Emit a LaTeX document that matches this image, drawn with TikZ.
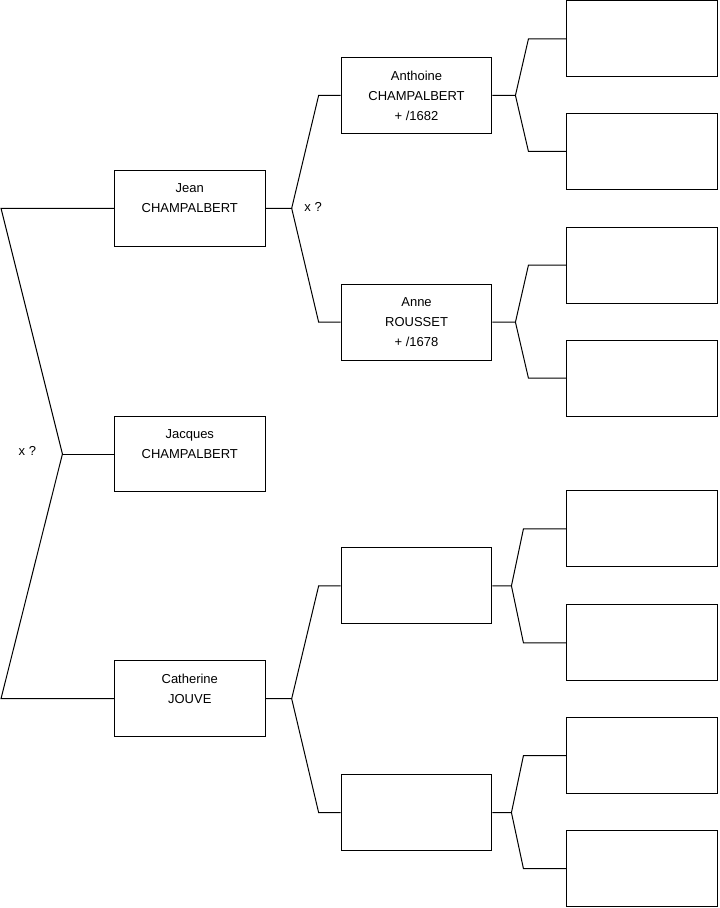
\documentclass[tikz,border=0pt]{standalone}
\usepackage{fontspec}
\setmainfont{Liberation Sans}
\usetikzlibrary{positioning}

\tikzset{
  person/.style={draw, line width=0.75pt, minimum width=113.25pt, minimum height=57pt,
    inner sep=0pt, align=center, font=\fontsize{9.75}{15}\selectfont},
  link/.style={line width=0.75pt},
  note/.style={inner sep=0pt, anchor=west, font=\fontsize{9.75}{11}\selectfont}
}

\begin{document}
\begin{tikzpicture}[x=0.75pt, y=-0.75pt]
    \useasboundingbox (-0.5,-0.5) rectangle (719.5,908.5);
    % generation 1
    \node[person] (jean)      at (189.5,208) {Jean\\CHAMPALBERT\\};
    \node[person] (jacques)   at (189.5,454) {Jacques\\CHAMPALBERT\\};
    \node[person] (catherine) at (189.5,699) {Catherine\\JOUVE\\};
    % generation 2
    \node[person] (anthoine) at (416.5,95)  {Anthoine\\CHAMPALBERT\\+ /1682};
    \node[person] (anne)     at (416.5,322) {Anne\\ROUSSET\\+ /1678};
    \node[person] (gpa)      at (416.5,586) {};
    \node[person] (gma)      at (416.5,813) {};
    % generation 3
    \foreach \n/\y in {a/38.5,b/151,c/265,d/378,e/529,f/643,g/756,h/869}
      \node[person] (g\n) at (642.5,\y) {};
    % couple of the first generation
    \coordinate (top) at (0.5,208);
    \coordinate (mid) at (62,454);
    \coordinate (bot) at (0.5,699);
    \draw[link] (jean.west) -- (top) -- (mid) -- (bot) -- (catherine.west);
    \draw[link] (mid) -- (jacques.west);
    \node[note] (xq1) at (18,451) {x ?};
    % parents of Jean
    \draw[link] (jean.east) -- ++(26,0) coordinate (fj)
      -- ([xshift=-16.5pt]anthoine.west) -- (anthoine.west);
    \draw[link] (fj) -- ([xshift=-16.5pt]anne.west) -- (anne.west);
    \node[note] (xq2) at (304,207) {x ?};
    % parents of Catherine
    \draw[link] (catherine.east) -- ++(26,0) coordinate (fc)
      -- ([xshift=-16.5pt]gpa.west) -- (gpa.west);
    \draw[link] (fc) -- ([xshift=-16.5pt]gma.west) -- (gma.west);
    % generation 3 links
    \draw[link] (anthoine.east) -- ++(23,0) coordinate (f1)
      -- ([xshift=-28.5pt]ga.west) -- (ga.west);
    \draw[link] (f1) -- ([xshift=-28.5pt]gb.west) -- (gb.west);
    \draw[link] (anne.east) -- ++(23,0) coordinate (f2)
      -- ([xshift=-28.5pt]gc.west) -- (gc.west);
    \draw[link] (f2) -- ([xshift=-28.5pt]gd.west) -- (gd.west);
    \draw[link] (gpa.east) -- ++(19,0) coordinate (f3)
      -- ([xshift=-32.25pt]ge.west) -- (ge.west);
    \draw[link] (f3) -- ([xshift=-32.25pt]gf.west) -- (gf.west);
    \draw[link] (gma.east) -- ++(19,0) coordinate (f4)
      -- ([xshift=-32.25pt]gg.west) -- (gg.west);
    \draw[link] (f4) -- ([xshift=-32.25pt]gh.west) -- (gh.west);
\end{tikzpicture}
\end{document}
